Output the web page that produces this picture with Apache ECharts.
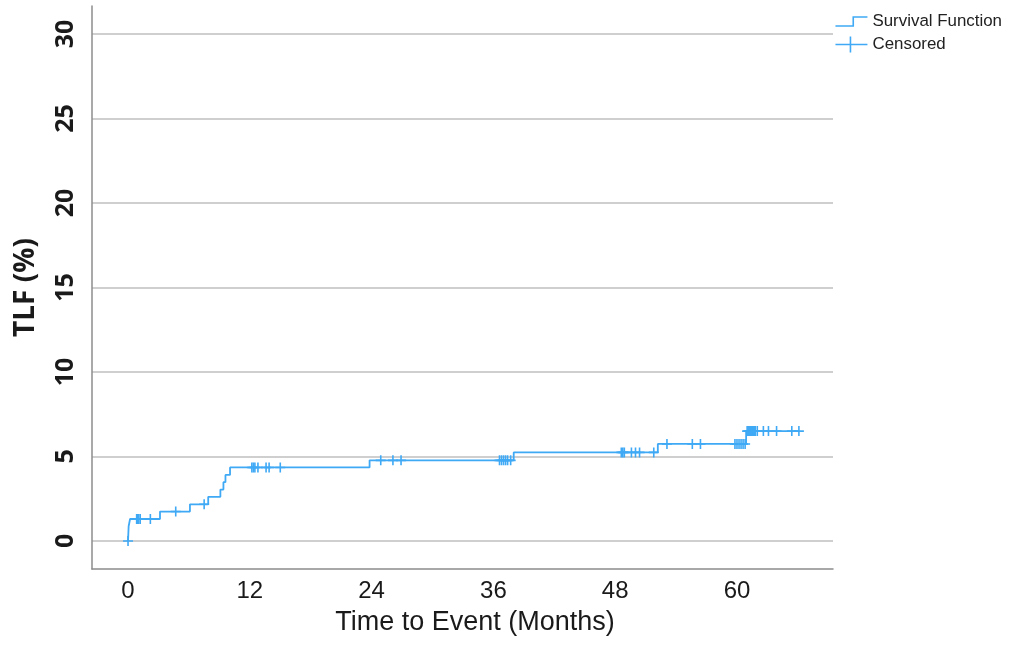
<!DOCTYPE html>
<html>
<head>
<meta charset="utf-8">
<script src="https://cdn.jsdelivr.net/npm/echarts@6/dist/echarts.min.js"></script>
<style>
html,body{margin:0;padding:0;background:#fff;}
#chart{width:1011px;height:646px;}
</style>
</head>
<body>
<div id="chart"></div>
<script>
// Kaplan-Meier style cumulative TLF curve (step times in months, values in %)
var stepTimes  = [0, 0.03, 0.06, 0.2, 3.15, 6.1, 7.9, 9.1, 9.4, 9.6, 10.05, 23.8, 38.0, 52.2, 60.9, 66.1];
var stepValues = [0, 0.43, 0.87, 1.30, 1.74, 2.17, 2.61, 3.04, 3.48, 3.91, 4.35, 4.77, 5.24, 5.74, 6.50, 6.50];

// Censored observations
var censorTimes  = [0,
  0.85, 0.95, 1.05, 1.2, 2.2,
  4.7,
  7.5,
  12.2, 12.35, 12.5, 12.8, 13.6, 13.9, 15.0,
  24.9, 26.1, 26.9, 36.6, 36.8, 37.0, 37.2, 37.4, 37.7,
  48.6, 48.75, 48.9, 49.6, 50.0, 50.4, 51.8,
  53.1, 55.6, 56.4, 59.8, 60.0, 60.2, 60.4, 60.6, 60.8,
  61.0, 61.1, 61.2, 61.3, 61.4, 61.5, 61.6, 61.7, 61.8, 62.0, 62.6, 63.1, 63.9, 65.4, 66.1];
var censorValues = [0,
  1.30, 1.30, 1.30, 1.30, 1.30,
  1.74,
  2.17,
  4.35, 4.35, 4.35, 4.35, 4.35, 4.35, 4.35,
  4.77, 4.77, 4.77, 4.77, 4.77, 4.77, 4.77, 4.77, 4.77,
  5.24, 5.24, 5.24, 5.24, 5.24, 5.24, 5.24,
  5.74, 5.74, 5.74, 5.74, 5.74, 5.74, 5.74, 5.74, 5.74,
  6.50, 6.50, 6.50, 6.50, 6.50, 6.50, 6.50, 6.50, 6.50, 6.50, 6.50, 6.50, 6.50, 6.50, 6.50];

var xTickLabels = [0, 12, 24, 36, 48, 60];
var yTickLabels = [0, 5, 10, 15, 20, 25, 30];

var BLUE = '#3fa9f5';
var stepData = stepTimes.map(function (t, i) { return [t, stepValues[i]]; });
var censorData = censorTimes.map(function (t, i) { return [t, censorValues[i]]; });

var plusPath = 'path://M-0.16,-1H0.16V1H-0.16Z M-1,-0.16H1V0.16H-1Z';
var survIcon = 'path://M0,9H17V0H32V1.6H18.6V10.6H0Z';
var censIcon = 'path://M0,7.2H32V8.8H0Z M14.2,0H15.8V16H14.2Z';

var chart = echarts.init(document.getElementById('chart'), null, {renderer: 'canvas'});
chart.setOption({
  animation: false,
  backgroundColor: '#ffffff',
  textStyle: {fontFamily: 'Liberation Sans'},
  grid: {left: 92, right: 178, top: 6, bottom: 77, containLabel: false},
  legend: {
    orient: 'vertical',
    right: 4,
    top: 8,
    itemWidth: 32,
    itemHeight: 16,
    itemGap: 6,
    align: 'left',
    textStyle: {fontSize: 16.9, color: '#222', fontFamily: 'Liberation Sans', lineHeight: 16},
    data: [
      {name: 'Survival Function', icon: survIcon, itemStyle: {color: BLUE, borderWidth: 0}},
      {name: 'Censored', icon: censIcon, itemStyle: {color: BLUE, borderWidth: 0}}
    ]
  },
  xAxis: {
    type: 'value',
    min: -3.55,
    max: 69.46,
    name: 'Time to Event (Months)',
    nameLocation: 'middle',
    nameGap: 40,
    nameTextStyle: {fontSize: 27, color: '#1a1a1a', padding: [0, 0, 0, 25], fontFamily: 'Liberation Sans'},
    axisLine: {show: true, onZero: false, lineStyle: {color: '#8c8c8c', width: 1.5}},
    axisTick: {show: false, customValues: xTickLabels},
    axisLabel: {customValues: xTickLabels, fontSize: 24, color: '#1a1a1a', margin: 10, fontFamily: 'Liberation Sans'},
    splitLine: {show: false}
  },
  yAxis: {
    type: 'value',
    min: -1.66,
    max: 31.66,
    name: 'TLF (%)',
    nameLocation: 'middle',
    nameGap: 52,
    nameTextStyle: {fontSize: 28, fontWeight: 'bold', color: '#1a1a1a', fontFamily: 'Open Sans'},
    axisLine: {show: true, onZero: false, lineStyle: {color: '#8c8c8c', width: 1.5}},
    axisTick: {show: false, customValues: yTickLabels},
    axisLabel: {customValues: yTickLabels, rotate: 90, fontSize: 25, fontWeight: 'bold', color: '#1a1a1a', margin: 14, fontFamily: 'Open Sans'},
    splitLine: {show: true, lineStyle: {color: '#cfcfcf', width: 2}}
  },
  series: [
    {
      name: 'Survival Function',
      type: 'line',
      step: 'end',
      data: stepData,
      showSymbol: false,
      symbol: 'none',
      lineStyle: {color: BLUE, width: 1.8},
      itemStyle: {color: BLUE},
      z: 3
    },
    {
      name: 'Censored',
      type: 'scatter',
      data: censorData,
      symbol: plusPath,
      symbolSize: 10,
      itemStyle: {color: BLUE, opacity: 1},
      z: 4
    }
  ]
});
</script>
</body>
</html>
